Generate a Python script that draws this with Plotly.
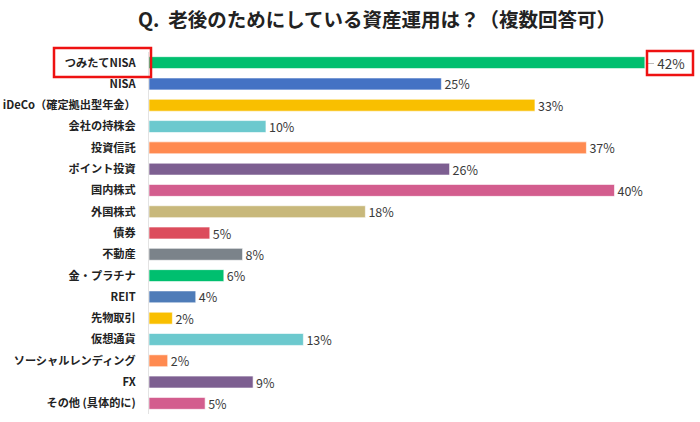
import plotly.graph_objects as go

categories = ["つみたてNISA", "NISA", "iDeCo（確定拠出型年金）", "会社の持株会", "投資信託", "ポイント投資",
              "国内株式", "外国株式", "債券", "不動産", "金・プラチナ", "REIT", "先物取引", "仮想通貨",
              "ソーシャルレンディング", "FX", "その他 (具体的に)"]
values = [42.4, 25.0, 33.0, 10.0, 37.4, 25.7, 39.8, 18.5, 5.2, 8.0, 6.4, 4.0, 2.0, 13.2, 1.6, 8.9, 4.8]
labels = ["42%", "25%", "33%", "10%", "37%", "26%", "40%", "18%", "5%", "8%", "6%", "4%", "2%", "13%", "2%", "9%", "5%"]
colors = ["#00BF6F", "#4472C4", "#F9BF00", "#6CC9CE", "#FF8A50", "#7D5F91", "#D35D8E", "#C8B87B",
          "#DC4C5C", "#7B838A", "#00BF6F", "#4F7CB8", "#F9BF00", "#6CC9CE", "#FF8A50", "#7D5F91", "#D35D8E"]

W, H = 700, 422
ML = 149
MT = 52
MR = W - 687
MB = H - 413.6
PW = W - ML - MR
PH = H - MT - MB

def px2paper_x(px):
    return (px - ML) / PW

def px2paper_y(py):
    return (H - MB - py) / PH

label_sizes = [13.5] + [12.5] * (len(labels) - 1)
shown_labels = ["\u2002\u2009" + labels[0]] + labels[1:]

fig = go.Figure(go.Bar(
    y=categories, x=values, orientation="h",
    marker=dict(color=colors, line=dict(color="rgba(255,255,255,0.6)", width=1)),
    text=shown_labels, textposition="outside", cliponaxis=False, constraintext="none",
    textfont=dict(family="Noto Sans CJK JP", size=label_sizes, color="#3a3a3a"),
    width=0.56,
))

fig.update_layout(
    width=W, height=H,
    margin=dict(l=ML, r=MR, t=MT, b=MB, autoexpand=False),
    plot_bgcolor="white", paper_bgcolor="white",
    showlegend=False,
    title=dict(text="<b>Q.  老後のためにしている資産運用は？（複数回答可）</b>",
               x=377 / W, xanchor="center", xref="container",
               y=1 - 20 / H, yanchor="middle", yref="container",
               automargin=False,
               font=dict(family="Noto Sans CJK JP", size=19.5, color="#222")),
    xaxis=dict(range=[0, 46], visible=False, fixedrange=True, automargin=False),
    yaxis=dict(autorange="reversed", showgrid=False, zeroline=False, automargin=False,
               showline=True, linecolor="#e3e3e3", linewidth=1,
               ticks="", ticklabelstandoff=10,
               tickfont=dict(family="Noto Sans CJK JP", size=11.2, color="#222", weight="bold")),
    bargap=0.44,
    font=dict(family="Noto Sans CJK JP"),
)

# leader line for the highlighted label
fig.add_shape(type="line", xref="paper", yref="paper",
              x0=px2paper_x(647), x1=px2paper_x(654), y0=px2paper_y(63.5), y1=px2paper_y(63.5),
              line=dict(color="#bbbbbb", width=1))

# Red highlight boxes
fig.add_shape(type="rect", xref="paper", yref="paper",
              x0=px2paper_x(54), x1=px2paper_x(151), y0=px2paper_y(77), y1=px2paper_y(48),
              line=dict(color="#EE1111", width=2.5))
fig.add_shape(type="rect", xref="paper", yref="paper",
              x0=px2paper_x(647), x1=px2paper_x(693), y0=px2paper_y(75), y1=px2paper_y(51),
              line=dict(color="#EE1111", width=2.5))

fig.write_html("out.html",
               config={"displayModeBar": False},
               post_script="document.body.style.margin='0';document.body.style.padding='0';")
